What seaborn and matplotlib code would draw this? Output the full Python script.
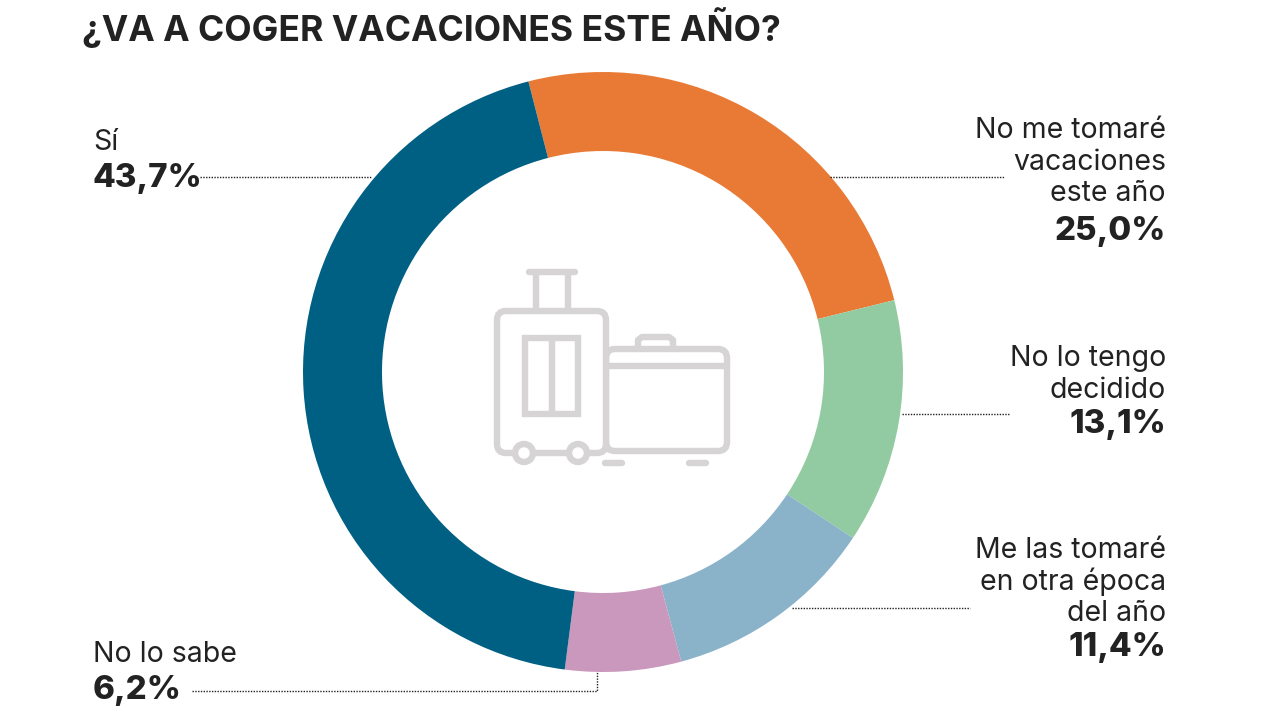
import matplotlib
matplotlib.use("Agg")
import matplotlib.pyplot as plt
from matplotlib.patches import Circle, FancyBboxPatch
import seaborn as sns

# Data
categories = ["No me tomaré vacaciones este año", "No lo tengo decidido",
              "Me las tomaré en otra época del año", "No lo sabe", "Sí"]
values = [25.0, 13.1, 11.4, 6.2, 43.7]
colors = ["#E97A35", "#92CBA1", "#8AB3CA", "#CA97BD", "#006084"]
title = "¿VA A COGER VACACIONES ESTE AÑO?"

sns.set_theme(style="white")
plt.rcParams["font.family"] = ["Inter", "DejaVu Sans"]

TXT = "#222222"
ICON = "#D6D4D5"

fig = plt.figure(figsize=(12.8, 7.2), dpi=100, facecolor="white")
ax = fig.add_axes([0, 0, 1, 1])

# donut
ax.pie(values, colors=sns.color_palette(colors), startangle=104.4, counterclock=False,
       center=(603, 720 - 372), radius=300, wedgeprops=dict(width=79, linewidth=0))
ax.set_xlim(0, 1280)
ax.set_ylim(0, 720)
ax.set_aspect("equal")
ax.axis("off")


def Y(py):
    return 720 - py


def seg(xs, ys, **kw):
    ax.plot(xs, [Y(v) for v in ys], color=kw.pop("color", ICON), **kw)


# suitcase icon
LW = 4.6
def rbox(x0, y0, x1, y1, r):
    ax.add_patch(FancyBboxPatch((x0 + r, Y(y1) + r), x1 - x0 - 2 * r, y1 - y0 - 2 * r,
                                boxstyle=f"round,pad={r},rounding_size={r}",
                                fc="none", ec=ICON, lw=LW, zorder=3))

rbox(606, 349, 727, 451, 9)
seg([606, 727], [366, 366], lw=LW, zorder=3)
seg([638, 638, 642, 669, 673, 673], [349, 340, 337, 337, 340, 349], lw=LW, zorder=3)
ax.add_patch(FancyBboxPatch((506, Y(453) + 9), 91, 124, boxstyle="round,pad=9,rounding_size=9",
                            fc="white", ec=ICON, lw=LW, zorder=4))
seg([536, 536], [272, 311], lw=LW, zorder=3)
seg([568, 568], [272, 311], lw=LW, zorder=3)
seg([529, 575], [272, 272], lw=LW, solid_capstyle="round", zorder=3)
ax.add_patch(plt.Rectangle((525, Y(414)), 53, 76, fc="none", ec=ICON, lw=LW, zorder=5))
seg([552, 552], [338, 414], lw=LW, zorder=5)
for cx in [524, 578]:
    ax.add_patch(Circle((cx, Y(453)), 9, fc="white", ec=ICON, lw=LW, zorder=6))
seg([605, 622], [463, 463], lw=LW, solid_capstyle="round", zorder=3)
seg([689, 706], [463, 463], lw=LW, solid_capstyle="round", zorder=3)

# leader lines
dots = dict(color=TXT, lw=1.0, linestyle=(0, (1, 1)))
seg([200, 372], [177, 177], **dots)
seg([830, 1004], [177, 177], **dots)
seg([902, 1010], [414, 414], **dots)
seg([792, 970], [608, 608], **dots)
seg([192, 597, 597], [691, 691, 672], **dots)

# title
ax.text(82, Y(41), title, fontsize=25.6, fontweight="bold", color=TXT, va="baseline", ha="left")


def label(x, ha, lines, ys, pct, pct_y):
    for line, y in zip(lines, ys):
        ax.text(x, Y(y), line, fontsize=20.5, color=TXT, ha=ha, va="baseline")
    ax.text(x, Y(pct_y), pct, fontsize=23.8, fontweight="heavy", color=TXT, ha=ha, va="baseline")


label(93, "left", ["Sí"], [150], "43,7%", 187)
label(1166, "right", ["No me tomaré", "vacaciones", "este año"], [138, 170, 201], "25,0%", 240)
label(1166, "right", ["No lo tengo", "decidido"], [366, 398], "13,1%", 433)
label(1166, "right", ["Me las tomaré", "en otra época", "del año"], [558, 590, 621], "11,4%", 656)
label(93, "left", ["No lo sabe"], [662], "6,2%", 699)

fig.savefig("out.png", dpi=100)
